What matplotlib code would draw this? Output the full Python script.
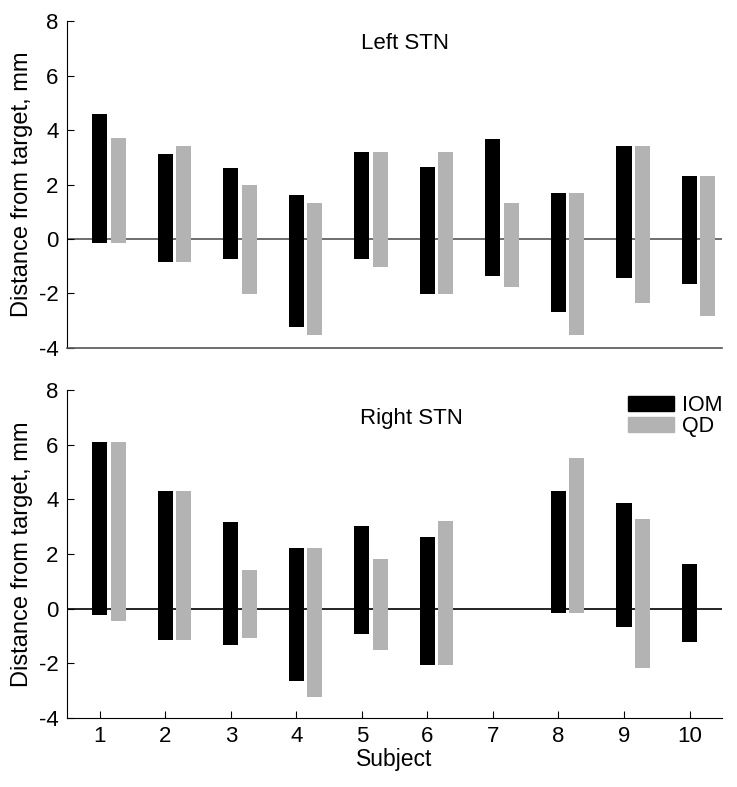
import numpy as np
import matplotlib
matplotlib.use('Agg')
import matplotlib.pyplot as plt
from matplotlib.patches import Patch

plt.rcParams['font.family'] = ['Liberation Sans', 'DejaVu Sans']
plt.rcParams['axes.unicode_minus'] = False

subjects = np.arange(1, 11)

# Left STN: bar bottom / top per subject (mm)
left_iom_lo = [-0.13, -0.83, -0.73, -3.23, -0.73, -2.03, -1.35, -2.68, -1.43, -1.65]
left_iom_hi = [4.61, 3.11, 2.59, 1.61, 3.19, 2.64, 3.67, 1.70, 3.41, 2.30]
left_qd_lo = [-0.13, -0.83, -2.03, -3.52, -1.04, -2.03, -1.77, -3.52, -2.37, -2.84]
left_qd_hi = [3.72, 3.41, 2.00, 1.31, 3.19, 3.19, 1.31, 1.70, 3.41, 2.30]

# Right STN (subject 7 has no data, subject 10 no QD)
right_iom_lo = [-0.25, -1.14, -1.35, -2.65, -0.92, -2.05, np.nan, -0.15, -0.67, -1.23]
right_iom_hi = [6.12, 4.32, 3.19, 2.21, 3.02, 2.64, np.nan, 4.32, 3.88, 1.64]
right_qd_lo = [-0.45, -1.14, -1.06, -3.25, -1.52, -2.05, np.nan, -0.15, -2.17, np.nan]
right_qd_hi = [6.12, 4.32, 1.40, 2.21, 1.82, 3.20, np.nan, 5.52, 3.29, np.nan]

iom_color = 'black'
qd_color = '#b3b3b3'
bar_w = 0.23
offset = 0.28

fig = plt.figure(figsize=(7.37, 7.87), dpi=100)
ax1 = fig.add_axes([0.091, 0.558, 0.889, 0.415])
ax2 = fig.add_axes([0.091, 0.088, 0.889, 0.416])


def draw_panel(ax, iom_lo, iom_hi, qd_lo, qd_hi, title, title_pos, line_color):
    iom_lo = np.array(iom_lo, dtype=float)
    iom_hi = np.array(iom_hi, dtype=float)
    qd_lo = np.array(qd_lo, dtype=float)
    qd_hi = np.array(qd_hi, dtype=float)
    ax.axhline(0, color=line_color, lw=1.2, zorder=1)
    ax.bar(subjects, iom_hi - iom_lo, bottom=iom_lo, width=bar_w,
           color=iom_color, zorder=2)
    ax.bar(subjects + offset, qd_hi - qd_lo, bottom=qd_lo, width=bar_w,
           color=qd_color, zorder=2)
    ax.set_xlim(0.5, 10.5)
    ax.set_ylim(-4, 8)
    ax.set_yticks([-4, -2, 0, 2, 4, 6, 8])
    ax.spines['top'].set_visible(False)
    ax.spines['right'].set_visible(False)
    ax.tick_params(direction='in', length=5, labelsize=16, pad=6)
    ax.set_ylabel('Distance from target, mm', fontsize=17, labelpad=4)
    ax.text(title_pos[0], title_pos[1], title, transform=ax.transAxes,
            ha='center', va='center', fontsize=16)


draw_panel(ax1, left_iom_lo, left_iom_hi, left_qd_lo, left_qd_hi,
           'Left STN', (0.516, 0.933), '#555555')
ax1.spines['bottom'].set_color('#555555')
ax1.spines['bottom'].set_linewidth(1.2)
ax1.set_xticks([])

draw_panel(ax2, right_iom_lo, right_iom_hi, right_qd_lo, right_qd_hi,
           'Right STN', (0.525, 0.915), 'black')
ax2.set_xticks(subjects)
ax2.set_xlabel('Subject', fontsize=16.5, labelpad=1)

handles = [Patch(color=iom_color, label='IOM'), Patch(color=qd_color, label='QD')]
ax2.legend(handles=handles, loc='upper right', frameon=False, fontsize=15.5,
           handlelength=2.15, handleheight=0.7, handletextpad=0.35,
           labelspacing=0.0, borderpad=0, borderaxespad=0,
           bbox_to_anchor=(1.0, 0.985))

fig.savefig('out.png', dpi=100)
